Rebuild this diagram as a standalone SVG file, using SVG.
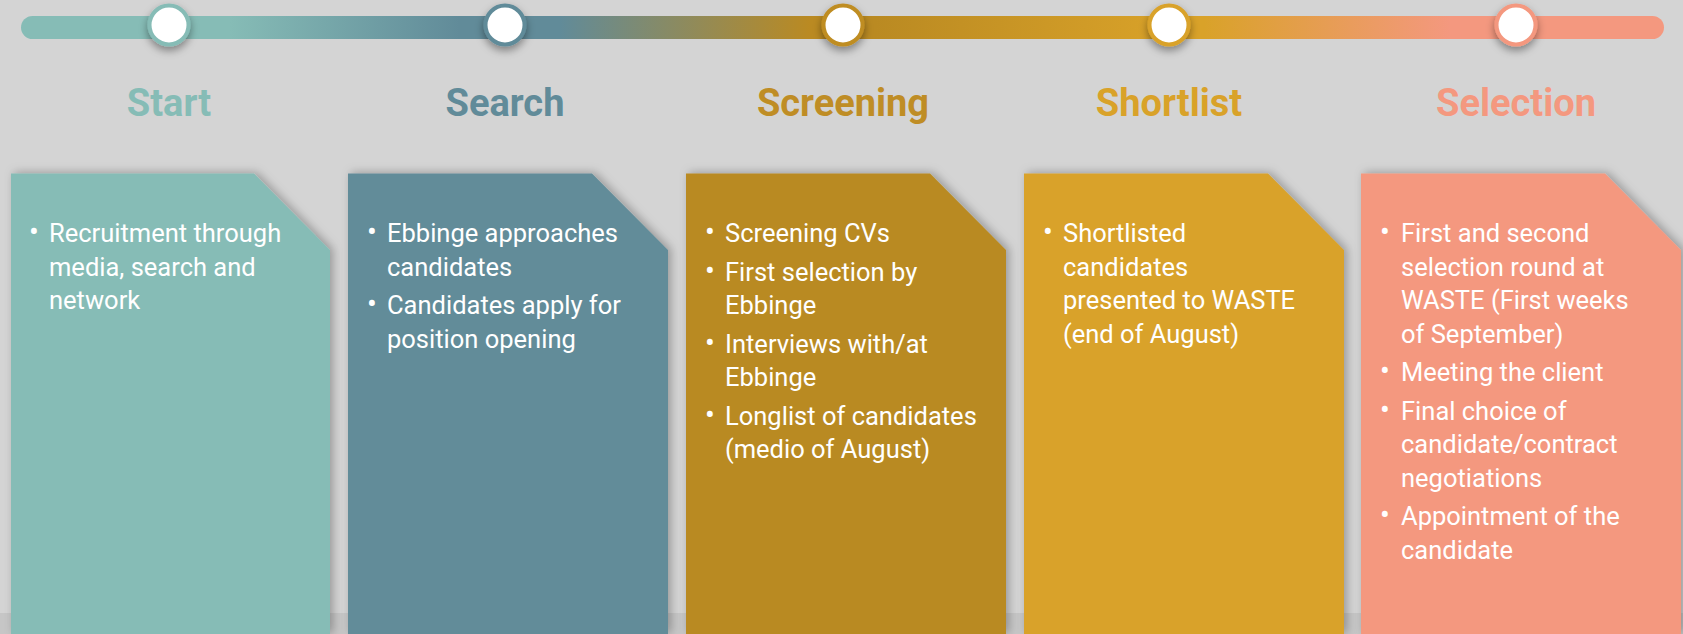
<svg xmlns="http://www.w3.org/2000/svg" width="1683" height="634" viewBox="0 0 1683 634">
<defs>
<linearGradient id="barGrad" gradientUnits="userSpaceOnUse" x1="21" y1="0" x2="1664" y2="0">
<stop offset="0" stop-color="#86BCB6"/>
<stop offset="0.127" stop-color="#86BCB6"/>
<stop offset="0.267" stop-color="#618B99"/>
<stop offset="0.328" stop-color="#618B99"/>
<stop offset="0.48" stop-color="#BA8A22"/>
<stop offset="0.52" stop-color="#BA8A22"/>
<stop offset="0.70" stop-color="#D9A229"/>
<stop offset="0.72" stop-color="#D9A229"/>
<stop offset="0.87" stop-color="#F4987F"/>
<stop offset="1" stop-color="#F4987F"/>
</linearGradient>
<filter id="dotShadow" x="-50%" y="-50%" width="200%" height="220%">
<feDropShadow dx="0" dy="4" stdDeviation="4" flood-color="#000" flood-opacity="0.4"/>
</filter>
<filter id="cardShadow" x="-10%" y="-10%" width="125%" height="125%">
<feDropShadow dx="3" dy="-1" stdDeviation="5" flood-color="#000" flood-opacity="0.28"/>
</filter>
</defs>
<style>
.title{font-family:Roboto,"Liberation Sans",sans-serif;font-weight:bold;font-size:38px;text-anchor:middle}
.body{font-family:Roboto,"Liberation Sans",sans-serif;font-size:25.5px;fill:#ffffff}
.b{font-size:29px}
.dot{fill:#ffffff;stroke-width:4}
.card{filter:url(#cardShadow)}
</style>
<rect x="0" y="0" width="1683" height="634" fill="#D4D4D4"/>
<rect x="0" y="613" width="1683" height="21" fill="#C6C6C6"/>

<g id="connectors">
<rect x="21" y="16" width="1643" height="23" rx="11.5" fill="url(#barGrad)"/>
</g>

<g id="start">
<circle class="dot" cx="169" cy="25" r="19.5" stroke="#86BCB6" filter="url(#dotShadow)"/>
<text class="title" x="169" y="116" fill="#86BCB6">Start</text>
<path class="card" d="M11,173.5 H254 L330,250 V634 H11 Z" fill="#86BCB6"/>
<text class="body" y="242"><tspan class="b" x="29">•</tspan><tspan x="49">Recruitment through</tspan><tspan x="49" y="275.5">media, search and</tspan><tspan x="49" y="309">network</tspan></text>
</g>

<g id="search">
<circle class="dot" cx="505" cy="25" r="19.5" stroke="#618B99" filter="url(#dotShadow)"/>
<text class="title" x="505" y="116" fill="#618B99">Search</text>
<path class="card" d="M348,173.5 H592 L668,250 V634 H348 Z" fill="#628C99"/>
<text class="body" y="242"><tspan class="b" x="367">•</tspan><tspan x="387">Ebbinge approaches</tspan><tspan x="387" y="275.5">candidates</tspan><tspan class="b" x="367" y="314">•</tspan><tspan x="387">Candidates apply for</tspan><tspan x="387" y="347.5">position opening</tspan></text>
</g>

<g id="screening">
<circle class="dot" cx="843" cy="25" r="19.5" stroke="#BF8D22" filter="url(#dotShadow)"/>
<text class="title" x="843" y="116" fill="#BF8D25">Screening</text>
<path class="card" d="M686,173.5 H930 L1006,250 V634 H686 Z" fill="#B98A20"/>
<text class="body" y="242"><tspan class="b" x="705">•</tspan><tspan x="725">Screening CVs</tspan><tspan class="b" x="705" y="280.5">•</tspan><tspan x="725">First selection by</tspan><tspan x="725" y="314">Ebbinge</tspan><tspan class="b" x="705" y="352.5">•</tspan><tspan x="725">Interviews with/at</tspan><tspan x="725" y="386">Ebbinge</tspan><tspan class="b" x="705" y="424.5">•</tspan><tspan x="725">Longlist of candidates</tspan><tspan x="725" y="458">(medio of August)</tspan></text>
</g>

<g id="shortlist">
<circle class="dot" cx="1169" cy="25" r="19.5" stroke="#D9A229" filter="url(#dotShadow)"/>
<text class="title" x="1169" y="116" fill="#D9A229">Shortlist</text>
<path class="card" d="M1024,173.5 H1268 L1344,250 V634 H1024 Z" fill="#D9A229"/>
<text class="body" y="242"><tspan class="b" x="1043">•</tspan><tspan x="1063">Shortlisted</tspan><tspan x="1063" y="275.5">candidates</tspan><tspan x="1063" y="309">presented to WASTE</tspan><tspan x="1063" y="342.5">(end of August)</tspan></text>
</g>

<g id="selection">
<circle class="dot" cx="1516" cy="25" r="19.5" stroke="#F4987F" filter="url(#dotShadow)"/>
<text class="title" x="1516" y="116" fill="#F4987F">Selection</text>
<path class="card" d="M1361,173.5 H1605 L1681,250 V634 H1361 Z" fill="#F4987F"/>
<text class="body" y="242"><tspan class="b" x="1380">•</tspan><tspan x="1401">First and second</tspan><tspan x="1401" y="275.5">selection round at</tspan><tspan x="1401" y="309">WASTE (First weeks</tspan><tspan x="1401" y="342.5">of September)</tspan><tspan class="b" x="1380" y="381">•</tspan><tspan x="1401">Meeting the client</tspan><tspan class="b" x="1380" y="419.5">•</tspan><tspan x="1401">Final choice of</tspan><tspan x="1401" y="453">candidate/contract</tspan><tspan x="1401" y="486.5">negotiations</tspan><tspan class="b" x="1380" y="525">•</tspan><tspan x="1401">Appointment of the</tspan><tspan x="1401" y="558.5">candidate</tspan></text>
</g>
</svg>
